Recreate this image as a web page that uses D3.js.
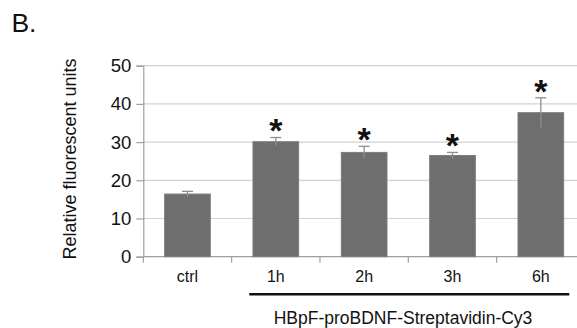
<!DOCTYPE html>
<html><head><meta charset="utf-8">
<script src="https://cdn.jsdelivr.net/npm/d3@7/dist/d3.min.js"></script>
<style>body{margin:0;background:#fff}svg{display:block}text{font-family:"Liberation Sans",Arial,sans-serif}</style>
</head><body><svg id="c" width="577" height="328"></svg>
<script>
const categories = ["ctrl", "1h", "2h", "3h", "6h"];
const values = [16.4, 30.1, 27.3, 26.5, 37.7];
const errors = [0.7, 1.1, 1.6, 0.8, 3.9];
const significant = [false, true, true, true, true];
const yTicks = [0, 10, 20, 30, 40, 50];
const groupLabel = "HBpF-proBDNF-Streptavidin-Cy3";
const yLabel = "Relative fluorescent units";
const panelLabel = "B.";

const svg = d3.select("#c");
const x0 = 143.3, x1 = 585, yTop = 65.7, yBot = 256.7;
const x = d3.scaleBand().domain(categories).range([x0, x1]).paddingInner(0.483).paddingOuter(0.2415);
const y = d3.scaleLinear().domain([0, 50]).range([yBot, yTop]);

// gridlines
svg.append("g").selectAll("line").data(yTicks.filter(d => d > 0)).join("line")
  .attr("x1", x0).attr("x2", x1).attr("y1", d => y(d)).attr("y2", d => y(d))
  .attr("stroke", "#d2d2d2").attr("stroke-width", 1.2);

// y axis
const ya = svg.append("g").attr("transform", `translate(${x0},0)`)
  .call(d3.axisLeft(y).tickValues(yTicks).tickSize(7).tickPadding(5));
ya.select(".domain").attr("stroke", "#a0a0a0").attr("stroke-width", 1.2);
ya.selectAll(".tick line").attr("stroke", "#a0a0a0").attr("stroke-width", 1.2);
ya.selectAll("text").attr("font-size", 18.5).attr("fill", "#111").attr("font-family", "Liberation Sans, Arial");

// x baseline and ticks at band edges
svg.append("line").attr("x1", x0).attr("x2", x1).attr("y1", yBot).attr("y2", yBot)
  .attr("stroke", "#a0a0a0").attr("stroke-width", 1.2);
const edges = categories.map(c => x(c) - x.step() * x.paddingInner() / 2);
svg.append("g").selectAll("line").data(edges).join("line")
  .attr("x1", d => d).attr("x2", d => d).attr("y1", yBot).attr("y2", yBot + 6)
  .attr("stroke", "#a0a0a0").attr("stroke-width", 1.2);
svg.append("g").selectAll("text").data(categories).join("text")
  .attr("x", d => x(d) + x.bandwidth() / 2).attr("y", 282)
  .attr("text-anchor", "middle").attr("font-size", 16).attr("fill", "#111").text(d => d);

// bars
svg.append("g").selectAll("rect").data(categories).join("rect")
  .attr("x", d => x(d)).attr("width", x.bandwidth())
  .attr("y", (d, i) => y(values[i])).attr("height", (d, i) => yBot - y(values[i]))
  .attr("fill", "#6e6e6e").attr("stroke", "#7c7c7c").attr("stroke-width", 1);

// error bars
const eg = svg.append("g").attr("stroke", "#8e8e8e").attr("stroke-width", 1.3);
categories.forEach((c, i) => {
  const cx = x(c) + x.bandwidth() / 2;
  eg.append("line").attr("x1", cx).attr("x2", cx).attr("y1", y(values[i] - errors[i])).attr("y2", y(values[i] + errors[i]));
  eg.append("line").attr("x1", cx - 5.5).attr("x2", cx + 5.5).attr("y1", y(values[i] + errors[i])).attr("y2", y(values[i] + errors[i]));
});

// asterisks
categories.forEach((c, i) => {
  if (!significant[i]) return;
  const cx = x(c) + x.bandwidth() / 2;
  const cy = y(values[i] + errors[i]) - 9.5;
  const t = svg.append("text").attr("x", cx).attr("y", 0).attr("text-anchor", "middle")
    .attr("font-size", 34).attr("font-weight", "bold").attr("fill", "#111").text("*");
  const b = t.node().getBBox();
  // getBBox gives the font box; shift glyph so its visual center sits at cy
  t.attr("y", cy + 0.42 * 34);
});

// y label
svg.append("text").attr("transform", `translate(75.5,159) rotate(-90)`)
  .attr("text-anchor", "middle").attr("font-size", 18).attr("fill", "#111").text(yLabel);

// group line and label
svg.append("line").attr("x1", 249.3).attr("x2", 569.3).attr("y1", 294.3).attr("y2", 294.3)
  .attr("stroke", "#111").attr("stroke-width", 2.5);
svg.append("text").attr("x", 403).attr("y", 324).attr("text-anchor", "middle")
  .attr("font-size", 17.5).attr("fill", "#111").text(groupLabel);

// panel label
svg.append("text").attr("x", 11.4).attr("y", 32.3).attr("font-size", 26.5).attr("fill", "#111").text(panelLabel);
</script></body></html>
